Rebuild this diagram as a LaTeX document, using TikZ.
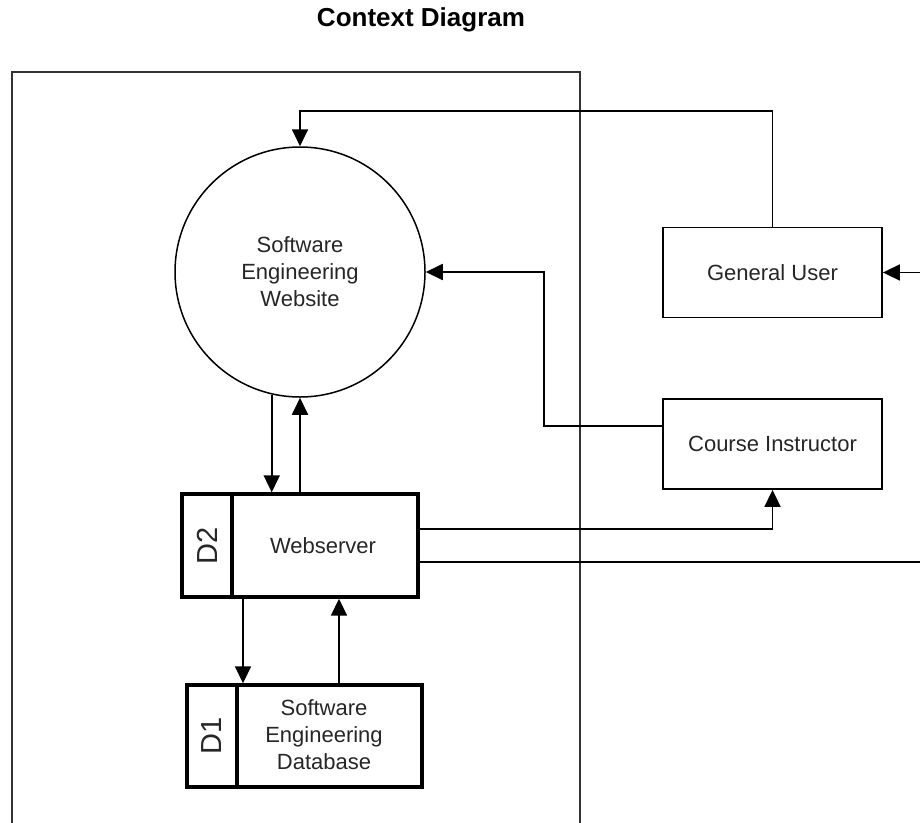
\documentclass[tikz,border=0pt]{standalone}
\usepackage{fontspec}
\setmainfont{Liberation Sans}
\usetikzlibrary{arrows.meta}

\tikzset{
  txt/.style={font=\fontsize{22}{27}\selectfont, align=center, text=black!85},
  entity/.style={draw, line width=1.8pt, minimum width=219pt, minimum height=90pt, txt},
  process/.style={draw, circle, line width=1.5pt, minimum size=250pt, txt},
  store/.style={draw, line width=3.4pt, txt},
  storeid/.style={rotate=90, font=\fontsize{29}{29}\selectfont, text=black!85},
  flow/.style={line width=1.8pt, -{Triangle[length=17pt,width=16pt]}},
  plain/.style={line width=1.8pt},
  frame/.style={line width=2pt, draw=black!80}
}

\begin{document}
\begin{tikzpicture}[x=1pt, y=-1pt]
  \useasboundingbox (0,0) rectangle (920,822);
  \clip (0,0) rectangle (920,822);

  % title
  \node[font=\bfseries\fontsize{26}{30}\selectfont] (title) at (421,20) {Context Diagram};

  % system boundary, open at the bottom
  \draw[frame] (12,840) -- (12,72) -- (580,72) -- (580,840);

  % process
  \node[process] (site) at (300,272) {Software\\Engineering\\Website};

  % external entities
  \node[entity] (gu) at (772.5,272.5) {General User};
  \node[entity] (ci) at (772.5,444) {Course Instructor};

  % data stores
  \node[store, minimum width=236pt, minimum height=103pt] (ws) at (300,545.5) {};
  \draw[line width=3.4pt] (232,494) -- (232,597);
  \node[storeid] (wsid) at (207,545.5) {D2};
  \node[txt] (wslbl) at (323,545.5) {Webserver};

  \node[store, minimum width=235pt, minimum height=102pt] (db) at (304.5,736) {};
  \draw[line width=3.4pt] (237,685) -- (237,787);
  \node[storeid] (dbid) at (212,736) {D1};
  \node[txt] (dblbl) at (324,735) {Software\\Engineering\\Database};

  % loose ends at the right edge
  \coordinate (inGU) at (920,272.5);
  \coordinate (outR) at (920,562);

  % data flows
  \draw[flow] (gu.north) -- ++(0,-116) -| (site.north);
  \draw[flow] ([yshift=18pt]ci.west) -- ++(-118,0) |- (site.east);
  \draw[flow] (inGU) -- (gu.east);
  \draw[flow] ([yshift=16.5pt]ws.east) -| (ci.south);
  \draw[plain] ([yshift=-16.5pt]ws.east) -- (outR);
  \draw[flow] (site.257) -- (site.257 |- ws.north);
  \draw[flow] (ws.north) -- (site.south);
  \draw[flow] ([xshift=-57pt]ws.south) -- ([xshift=-57pt]ws.south |- db.north);
  \draw[flow] ([xshift=34.5pt]db.north) -- ([xshift=34.5pt]db.north |- ws.south);
\end{tikzpicture}
\end{document}
